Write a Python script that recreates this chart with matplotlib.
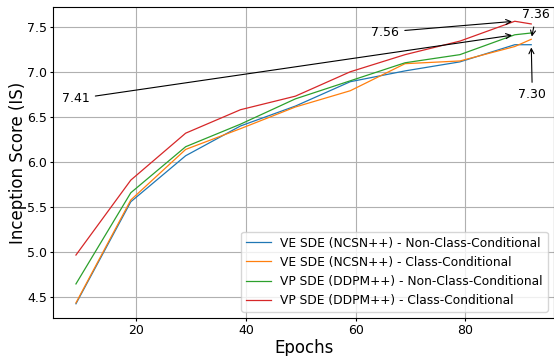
import matplotlib
matplotlib.use("Agg")
import matplotlib.pyplot as plt

# epochs at which the IS was evaluated
epochs = [9, 19, 29, 39, 49, 59, 69, 79, 89, 92]

ve_uncond = [4.43, 5.56, 6.07, 6.40, 6.62, 6.89, 7.01, 7.11, 7.30, 7.30]
ve_cond = [4.44, 5.58, 6.14, 6.37, 6.61, 6.79, 7.09, 7.12, 7.28, 7.36]
vp_uncond = [4.65, 5.66, 6.17, 6.42, 6.70, 6.90, 7.10, 7.19, 7.41, 7.43]
vp_cond = [4.97, 5.80, 6.32, 6.58, 6.73, 7.00, 7.19, 7.34, 7.56, 7.53]

labels = ['VE SDE (NCSN++) - Non-Class-Conditional',
          'VE SDE (NCSN++) - Class-Conditional',
          'VP SDE (DDPM++) - Non-Class-Conditional',
          'VP SDE (DDPM++) - Class-Conditional']

fig = plt.figure(figsize=(5.54, 3.56), dpi=100)
ax = fig.add_axes([0.096, 0.107, 0.904, 0.873])

lw = 0.9
ax.plot(epochs, ve_uncond, label=labels[0], lw=lw)
ax.plot(epochs, ve_cond, label=labels[1], lw=lw)
ax.plot(epochs, vp_uncond, label=labels[2], lw=lw)
ax.plot(epochs, vp_cond, label=labels[3], lw=lw)

arrow = dict(arrowstyle='->', color='black', lw=0.8)
ax.annotate(f'{vp_uncond[8]:.2f}', xy=(epochs[8], vp_uncond[8]), xytext=(9, 6.70),
            ha='center', va='center', fontsize=9, arrowprops=arrow)
ax.annotate(f'{vp_cond[8]:.2f}', xy=(epochs[8], vp_cond[8]), xytext=(65.4, 7.44),
            ha='center', va='center', fontsize=9, arrowprops=arrow)
ax.annotate(f'{ve_cond[9]:.2f}', xy=(epochs[9], ve_cond[9]), xytext=(92.9, 7.63),
            ha='center', va='center', fontsize=9, arrowprops=arrow)
ax.annotate(f'{ve_uncond[9]:.2f}', xy=(epochs[9], ve_uncond[9]), xytext=(92.2, 6.75),
            ha='center', va='center', fontsize=9, arrowprops=arrow)

ax.set_xlabel('Epochs', fontsize=12, labelpad=1)
ax.set_ylabel('Inception Score (IS)', fontsize=12, labelpad=0)
ax.tick_params(labelsize=9, length=2.5, pad=2)
ax.grid(True)
ax.legend(loc='lower right', fontsize=8.8)

fig.savefig('out.png', dpi=100)
